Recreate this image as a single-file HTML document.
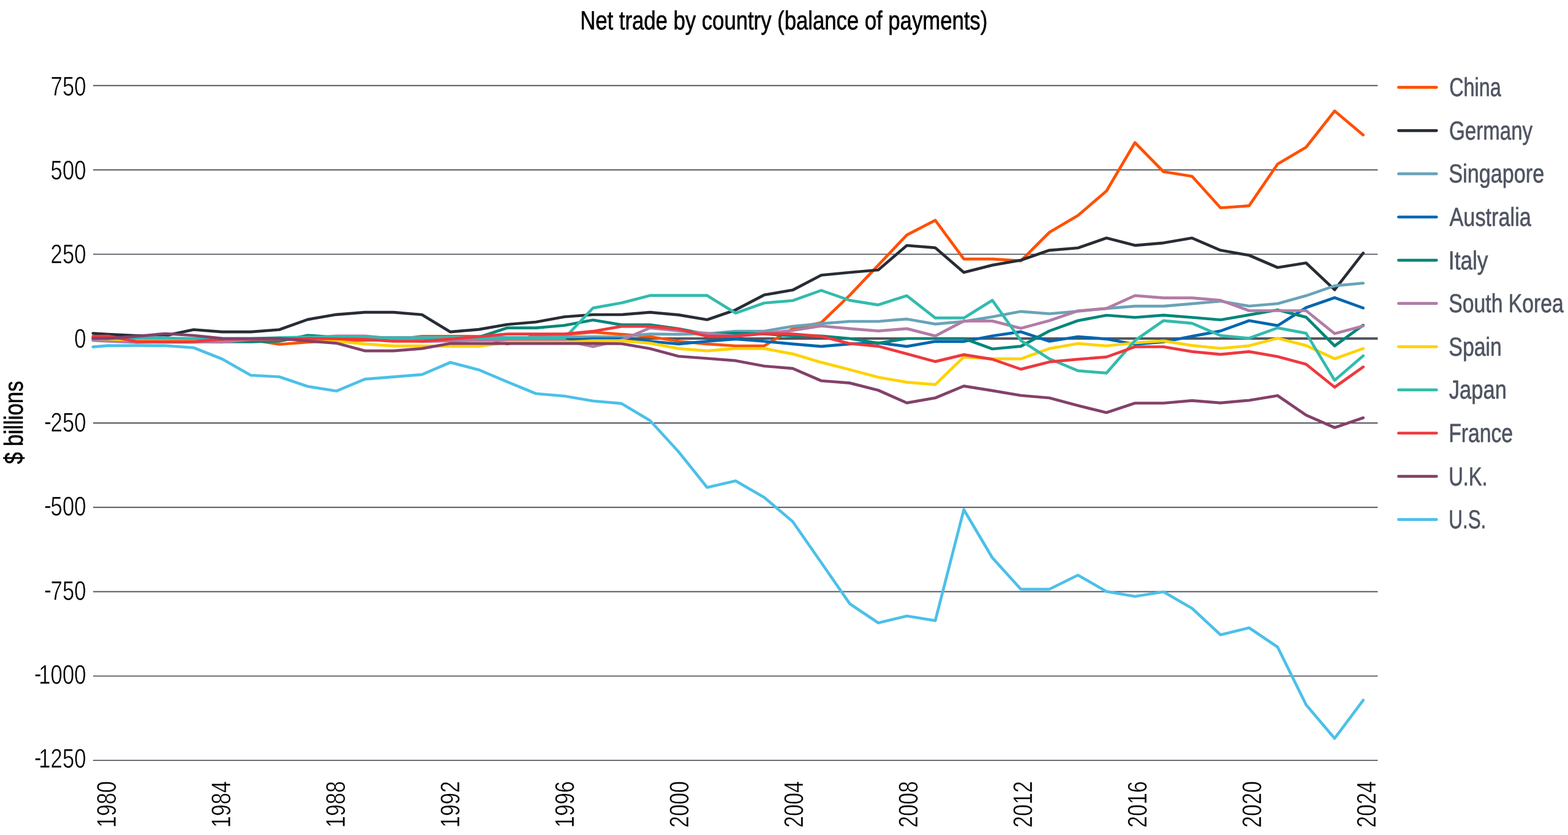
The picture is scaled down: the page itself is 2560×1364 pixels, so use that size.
<!DOCTYPE html>
<html lang="en"><head><meta charset="utf-8"><title>Net trade by country (balance of payments)</title>
<style>html,body{margin:0;padding:0;background:#fff}body{width:2560px;height:1364px;overflow:hidden}svg{display:block}text{font-family:'Liberation Sans', sans-serif;text-rendering:geometricPrecision}.ax{font-size:44.0px;fill:#000;stroke:#fff;stroke-width:0.50}.lg{font-size:42.6px;fill:#4e5461;stroke:#4e5461;stroke-width:0.65}.tt{font-size:42.8px;fill:#000;stroke:#000;stroke-width:0.65}.s{fill:none;stroke-width:4.7;stroke-linejoin:round;stroke-linecap:round}.sw{stroke-width:4.7;stroke-linecap:round}</style></head><body>
<svg xmlns="http://www.w3.org/2000/svg" width="2560" height="1364" viewBox="0 0 2560 1364">
<rect width="2560" height="1364" fill="#fff"/>
<g stroke="#54575f" stroke-width="1.9">
<line x1="152" y1="139.75" x2="2249.4" y2="139.75"/>
<line x1="152" y1="277.55" x2="2249.4" y2="277.55"/>
<line x1="152" y1="415.35" x2="2249.4" y2="415.35"/>
<line x1="152" y1="690.95" x2="2249.4" y2="690.95"/>
<line x1="152" y1="828.75" x2="2249.4" y2="828.75"/>
<line x1="152" y1="966.55" x2="2249.4" y2="966.55"/>
<line x1="152" y1="1104.35" x2="2249.4" y2="1104.35"/>
<line x1="152" y1="1242.15" x2="2249.4" y2="1242.15"/>
</g>
<line x1="152" y1="553.1" x2="2249.4" y2="553.1" stroke="#54575f" stroke-width="4"/>
<text class="tt" transform="translate(947.23,48) scale(0.8103,1)">Net trade by country (balance of payments)</text>
<text class="tt" transform="translate(37.1,758.10) rotate(-90) scale(0.8153,1)">$ billions</text>
<g class="ax" text-anchor="end">
<text transform="translate(140.55,156.00) scale(0.790,1)">750</text>
<text transform="translate(140.55,293.00) scale(0.790,1)">500</text>
<text transform="translate(140.55,430.00) scale(0.790,1)">250</text>
<text transform="translate(140.55,568.00) scale(0.790,1)">0</text>
<text transform="translate(140.55,705.00) scale(0.790,1)"><tspan dy="-1.9">-</tspan><tspan dx="-1.7" dy="1.9">250</tspan></text>
<text transform="translate(140.55,842.00) scale(0.790,1)"><tspan dy="-1.9">-</tspan><tspan dx="-1.7" dy="1.9">500</tspan></text>
<text transform="translate(140.55,980.00) scale(0.790,1)"><tspan dy="-1.9">-</tspan><tspan dx="-1.7" dy="1.9">750</tspan></text>
<text transform="translate(140.55,1117.00) scale(0.790,1)"><tspan dy="-1.9">-</tspan><tspan dx="-5.4" dy="1.9">1000</tspan></text>
<text transform="translate(140.55,1254.00) scale(0.790,1)"><tspan dy="-1.9">-</tspan><tspan dx="-5.4" dy="1.9">1250</tspan></text>
</g>
<g class="ax">
<text transform="translate(189.10,1352) rotate(-90) scale(0.775,1)">1980</text>
<text transform="translate(376.10,1352) rotate(-90) scale(0.775,1)">1984</text>
<text transform="translate(563.10,1352) rotate(-90) scale(0.775,1)">1988</text>
<text transform="translate(750.10,1352) rotate(-90) scale(0.775,1)">1992</text>
<text transform="translate(937.10,1352) rotate(-90) scale(0.775,1)">1996</text>
<text transform="translate(1124.10,1352) rotate(-90) scale(0.775,1)">2000</text>
<text transform="translate(1311.10,1352) rotate(-90) scale(0.775,1)">2004</text>
<text transform="translate(1498.10,1352) rotate(-90) scale(0.775,1)">2008</text>
<text transform="translate(1685.10,1352) rotate(-90) scale(0.775,1)">2012</text>
<text transform="translate(1872.10,1352) rotate(-90) scale(0.775,1)">2016</text>
<text transform="translate(2059.10,1352) rotate(-90) scale(0.775,1)">2020</text>
<text transform="translate(2246.10,1352) rotate(-90) scale(0.775,1)">2024</text>
</g>
<polyline class="s" stroke="#ff5000" points="151.8,555.5 176.5,555.5 223.1,555.5 269.6,555.5 316.2,555.5 362.8,556.0 409.4,555.0 455.9,562.5 502.5,559.0 549.1,557.0 595.6,556.0 642.2,555.0 688.8,549.4 735.3,549.4 781.9,549.5 828.5,562.0 875.0,547.0 921.6,546.5 968.2,542.6 1014.8,546.0 1061.3,550.0 1107.9,557.5 1154.5,561.9 1201.0,565.0 1247.6,565.0 1294.2,537.0 1340.8,527.0 1387.3,482.4 1433.9,433.1 1480.5,383.8 1527.0,359.8 1573.6,423.1 1620.2,423.1 1666.7,426.2 1713.3,379.5 1759.9,352.0 1806.5,312.0 1853.0,233.0 1899.6,280.5 1946.2,288.0 1992.7,339.5 2039.3,336.2 2085.9,268.0 2132.4,240.5 2179.0,181.2 2225.6,220.5"/>
<polyline class="s" stroke="#282c34" points="151.8,544.5 176.5,546.0 223.1,548.4 269.6,548.4 316.2,538.5 362.8,542.2 409.4,542.2 455.9,538.5 502.5,521.9 549.1,513.8 595.6,510.2 642.2,510.2 688.8,514.0 735.3,542.2 781.9,538.1 828.5,530.0 875.0,526.0 921.6,517.5 968.2,514.0 1014.8,514.0 1061.3,510.2 1107.9,514.4 1154.5,522.2 1201.0,506.2 1247.6,481.8 1294.2,473.8 1340.8,449.5 1387.3,445.0 1433.9,441.0 1480.5,401.0 1527.0,404.8 1573.6,445.0 1620.2,433.1 1666.7,425.0 1713.3,408.8 1759.9,405.0 1806.5,388.8 1853.0,400.8 1899.6,396.8 1946.2,388.8 1992.7,408.8 2039.3,417.0 2085.9,437.0 2132.4,429.5 2179.0,473.4 2225.6,413.4"/>
<polyline class="s" stroke="#69a3b7" points="151.8,551.3 176.5,551.3 223.1,551.3 269.6,551.3 316.2,556.0 362.8,558.7 409.4,558.5 455.9,556.0 502.5,551.3 549.1,551.3 595.6,551.3 642.2,551.3 688.8,551.3 735.3,551.3 781.9,551.3 828.5,551.3 875.0,551.3 921.6,550.0 968.2,550.0 1014.8,550.0 1061.3,545.6 1107.9,546.2 1154.5,545.0 1201.0,541.0 1247.6,541.0 1294.2,533.1 1340.8,528.6 1387.3,525.0 1433.9,525.0 1480.5,521.2 1527.0,529.4 1573.6,525.0 1620.2,517.5 1666.7,508.8 1713.3,512.5 1759.9,508.5 1806.5,503.8 1853.0,500.2 1899.6,500.2 1946.2,496.2 1992.7,492.0 2039.3,500.0 2085.9,496.0 2132.4,483.1 2179.0,466.9 2225.6,462.5"/>
<polyline class="s" stroke="#0065b1" points="921.6,555.6 968.2,553.6 1014.8,553.6 1061.3,557.5 1107.9,561.9 1154.5,557.5 1201.0,553.8 1247.6,557.5 1294.2,561.9 1340.8,565.9 1387.3,561.9 1433.9,560.0 1480.5,565.9 1527.0,557.8 1573.6,557.8 1620.2,548.8 1666.7,541.9 1713.3,557.5 1759.9,550.0 1806.5,553.8 1853.0,562.5 1899.6,558.5 1946.2,549.4 1992.7,540.6 2039.3,523.8 2085.9,531.9 2132.4,502.5 2179.0,486.2 2225.6,503.1"/>
<polyline class="s" stroke="#018679" points="151.8,553.0 176.5,555.0 223.1,559.0 269.6,559.0 316.2,559.0 362.8,557.5 409.4,558.1 455.9,557.5 502.5,547.8 549.1,551.0 595.6,553.0 642.2,554.0 688.8,553.0 735.3,553.0 781.9,550.8 828.5,535.6 875.0,535.6 921.6,531.5 968.2,522.8 1014.8,530.6 1061.3,530.6 1107.9,537.0 1154.5,546.0 1201.0,544.3 1247.6,545.5 1294.2,548.7 1340.8,548.8 1387.3,553.0 1433.9,560.6 1480.5,553.0 1527.0,553.0 1573.6,553.0 1620.2,570.0 1666.7,565.6 1713.3,540.6 1759.9,523.8 1806.5,515.0 1853.0,518.5 1899.6,514.8 1946.2,518.5 1992.7,522.5 2039.3,514.4 2085.9,506.2 2132.4,518.1 2179.0,565.0 2225.6,531.2"/>
<polyline class="s" stroke="#b27ca6" points="151.8,556.2 176.5,557.5 223.1,559.4 269.6,558.0 316.2,558.5 362.8,558.8 409.4,554.5 455.9,554.0 502.5,552.0 549.1,548.8 595.6,548.8 642.2,553.0 688.8,558.0 735.3,557.0 781.9,555.6 828.5,556.2 875.0,556.2 921.6,556.2 968.2,566.3 1014.8,555.5 1061.3,535.6 1107.9,540.5 1154.5,544.4 1201.0,549.0 1247.6,544.7 1294.2,539.8 1340.8,532.5 1387.3,536.9 1433.9,540.6 1480.5,536.9 1527.0,548.8 1573.6,524.4 1620.2,524.4 1666.7,536.2 1713.3,523.8 1759.9,507.8 1806.5,503.8 1853.0,482.8 1899.6,486.6 1946.2,486.6 1992.7,490.6 2039.3,507.5 2085.9,507.5 2132.4,507.5 2179.0,545.0 2225.6,532.5"/>
<polyline class="s" stroke="#ffd200" points="151.8,553.0 176.5,554.0 223.1,555.6 269.6,555.6 316.2,555.6 362.8,553.5 409.4,553.5 455.9,553.5 502.5,553.5 549.1,557.5 595.6,561.9 642.2,565.2 688.8,565.2 735.3,565.6 781.9,565.6 828.5,559.2 875.0,559.2 921.6,559.2 968.2,556.6 1014.8,556.6 1061.3,560.6 1107.9,569.4 1154.5,573.1 1201.0,569.4 1247.6,569.4 1294.2,578.1 1340.8,591.9 1387.3,603.8 1433.9,616.2 1480.5,624.4 1527.0,628.1 1573.6,583.1 1620.2,586.2 1666.7,586.2 1713.3,569.4 1759.9,561.2 1806.5,565.0 1853.0,560.0 1899.6,556.9 1946.2,564.4 1992.7,569.0 2039.3,564.8 2085.9,552.5 2132.4,564.4 2179.0,586.0 2225.6,569.4"/>
<polyline class="s" stroke="#32bbad" points="151.8,553.0 176.5,553.0 223.1,552.5 269.6,552.5 316.2,552.8 362.8,553.0 409.4,553.0 455.9,551.5 502.5,550.6 549.1,550.6 595.6,550.6 642.2,552.8 688.8,552.5 735.3,551.2 781.9,553.0 828.5,552.5 875.0,552.5 921.6,552.5 968.2,503.1 1014.8,494.8 1061.3,482.7 1107.9,482.7 1154.5,482.7 1201.0,511.5 1247.6,495.0 1294.2,491.0 1340.8,474.4 1387.3,490.6 1433.9,498.1 1480.5,483.1 1527.0,519.4 1573.6,519.4 1620.2,490.6 1666.7,556.2 1713.3,586.2 1759.9,605.6 1806.5,609.4 1853.0,556.2 1899.6,523.8 1946.2,528.1 1992.7,548.1 2039.3,552.5 2085.9,535.6 2132.4,544.4 2179.0,621.2 2225.6,581.2"/>
<polyline class="s" stroke="#ef383e" points="151.8,549.4 176.5,549.0 223.1,558.1 269.6,558.1 316.2,558.1 362.8,554.0 409.4,553.9 455.9,553.9 502.5,553.0 549.1,553.5 595.6,554.4 642.2,557.5 688.8,557.5 735.3,553.8 781.9,550.0 828.5,545.6 875.0,545.6 921.6,545.6 968.2,541.2 1014.8,533.1 1061.3,533.1 1107.9,537.5 1154.5,549.4 1201.0,549.4 1247.6,545.0 1294.2,545.6 1340.8,549.4 1387.3,561.2 1433.9,565.6 1480.5,578.1 1527.0,590.6 1573.6,579.4 1620.2,586.9 1666.7,603.1 1713.3,591.2 1759.9,586.9 1806.5,583.1 1853.0,566.5 1899.6,566.5 1946.2,574.4 1992.7,578.8 2039.3,574.4 2085.9,582.5 2132.4,595.0 2179.0,632.5 2225.6,599.4"/>
<polyline class="s" stroke="#834169" points="151.8,552.8 176.5,552.8 223.1,549.4 269.6,545.0 316.2,548.0 362.8,552.8 409.4,553.0 455.9,552.8 502.5,556.9 549.1,560.6 595.6,573.1 642.2,573.1 688.8,569.4 735.3,561.0 781.9,561.2 828.5,561.2 875.0,561.2 921.6,561.2 968.2,561.2 1014.8,561.5 1061.3,569.5 1107.9,582.0 1154.5,585.5 1201.0,589.2 1247.6,598.0 1294.2,601.8 1340.8,622.0 1387.3,625.6 1433.9,637.5 1480.5,658.1 1527.0,650.0 1573.6,630.6 1620.2,638.1 1666.7,646.0 1713.3,650.0 1759.9,662.5 1806.5,674.0 1853.0,658.5 1899.6,658.5 1946.2,654.4 1992.7,658.1 2039.3,654.0 2085.9,646.2 2132.4,678.1 2179.0,698.5 2225.6,682.5"/>
<polyline class="s" stroke="#4cc0e8" points="151.8,566.6 176.5,564.7 223.1,564.5 269.6,564.7 316.2,568.0 362.8,586.5 409.4,613.0 455.9,615.5 502.5,631.2 549.1,638.8 595.6,619.4 642.2,615.6 688.8,611.9 735.3,592.0 781.9,604.2 828.5,623.8 875.0,643.0 921.6,647.0 968.2,655.0 1014.8,659.2 1061.3,687.0 1107.9,738.0 1154.5,796.2 1201.0,785.5 1247.6,812.5 1294.2,852.0 1340.8,919.0 1387.3,986.2 1433.9,1017.5 1480.5,1006.2 1527.0,1013.8 1573.6,832.5 1620.2,911.2 1666.7,962.5 1713.3,962.5 1759.9,939.5 1806.5,966.2 1853.0,974.2 1899.6,966.8 1946.2,993.8 1992.7,1037.0 2039.3,1025.5 2085.9,1057.0 2132.4,1151.2 2179.0,1206.2 2225.6,1143.8"/>
<g class="lg">
<line class="sw" x1="2283.4" y1="142.70" x2="2345.3" y2="142.70" stroke="#ff5000"/>
<text transform="translate(2366.13,157.00) scale(0.7597,1)">China</text>
<line class="sw" x1="2283.4" y1="213.30" x2="2345.3" y2="213.30" stroke="#282c34"/>
<text transform="translate(2366.10,228.00) scale(0.7768,1)">Germany</text>
<line class="sw" x1="2283.4" y1="283.90" x2="2345.3" y2="283.90" stroke="#69a3b7"/>
<text transform="translate(2365.29,298.00) scale(0.8032,1)">Singapore</text>
<line class="sw" x1="2283.4" y1="354.50" x2="2345.3" y2="354.50" stroke="#0065b1"/>
<text transform="translate(2366.50,369.00) scale(0.8047,1)">Australia</text>
<line class="sw" x1="2283.4" y1="425.10" x2="2345.3" y2="425.10" stroke="#018679"/>
<text transform="translate(2364.83,440.00) scale(0.8277,1)">Italy</text>
<line class="sw" x1="2283.4" y1="495.70" x2="2345.3" y2="495.70" stroke="#b27ca6"/>
<text transform="translate(2365.31,510.00) scale(0.7911,1)">South Korea</text>
<line class="sw" x1="2283.4" y1="566.30" x2="2345.3" y2="566.30" stroke="#ffd200"/>
<text transform="translate(2365.31,581.00) scale(0.7947,1)">Spain</text>
<line class="sw" x1="2283.4" y1="636.90" x2="2345.3" y2="636.90" stroke="#32bbad"/>
<text transform="translate(2365.81,651.00) scale(0.8109,1)">Japan</text>
<line class="sw" x1="2283.4" y1="707.50" x2="2345.3" y2="707.50" stroke="#ef383e"/>
<text transform="translate(2365.31,722.00) scale(0.7898,1)">France</text>
<line class="sw" x1="2283.4" y1="778.10" x2="2345.3" y2="778.10" stroke="#834169"/>
<text transform="translate(2365.14,793.00) scale(0.7672,1)">U.K.</text>
<line class="sw" x1="2283.4" y1="848.70" x2="2345.3" y2="848.70" stroke="#4cc0e8"/>
<text transform="translate(2365.24,863.00) scale(0.7374,1)">U.S.</text>
</g>
</svg></body></html>
